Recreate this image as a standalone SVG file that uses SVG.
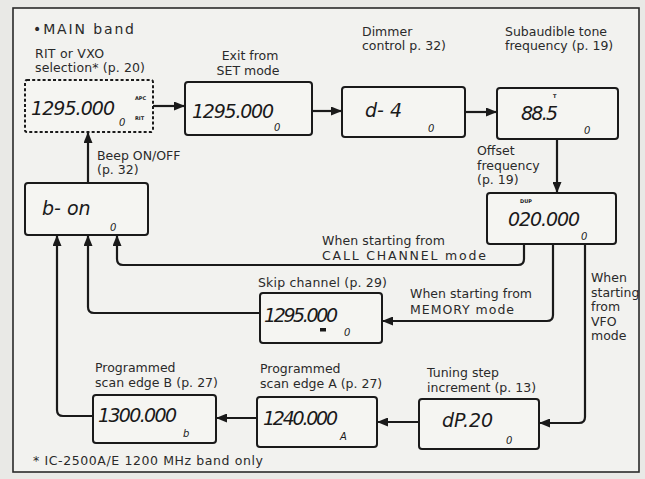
<svg xmlns="http://www.w3.org/2000/svg" width="645" height="479" viewBox="0 0 645 479">
<style>
.bg{fill:#e9e9e6}
.frame{fill:#f2f2ef;stroke:#2a2a2a;stroke-width:1.6}
.box{fill:#f5f5f2;stroke:#1a1a1a;stroke-width:2}
.dbox{fill:#f5f5f2;stroke:#1a1a1a;stroke-width:2;stroke-dasharray:3 2.2}
.lbl{font-family:"DejaVu Sans","Liberation Sans",sans-serif;font-size:12.5px;fill:#2a2a2a}
.lcd{font-family:"DejaVu Sans","Liberation Sans",sans-serif;font-style:italic;font-size:19px;fill:#1a1a1a;font-weight:300}
.sm{font-family:"DejaVu Sans","Liberation Sans",sans-serif;font-style:italic;font-size:10px;fill:#1a1a1a}
.tiny{font-family:"DejaVu Sans","Liberation Sans",sans-serif;font-size:5px;font-weight:bold;fill:#1a1a1a}
.ln{fill:none;stroke:#1a1a1a;stroke-width:2.2;stroke-linejoin:round}
</style>
<defs>
<marker id="ah" markerUnits="userSpaceOnUse" markerWidth="12" markerHeight="9" refX="11" refY="4.5" orient="auto">
<path d="M0,0 L11,4.5 L0,9 z" fill="#1a1a1a"/>
</marker>
</defs>
<rect class="bg" x="0" y="0" width="645" height="479"/>
<rect class="frame" x="13" y="8" width="626" height="464"/>

<text class="lbl" x="33" y="34" style="font-size:14px" textLength="101" lengthAdjust="spacing">•MAIN  band</text>

<g id="connectors">
<path class="ln" d="M153,106 H185" marker-end="url(#ah)"/>
<path class="ln" d="M312,111 H342" marker-end="url(#ah)"/>
<path class="ln" d="M465,112 H497" marker-end="url(#ah)"/>
<path class="ln" d="M557,139 V193" marker-end="url(#ah)"/>
<path class="ln" d="M524,244 V259 Q524,265 518,265 H123 Q117,265 117,259 V235" marker-end="url(#ah)"/>
<path class="ln" d="M553,244 V315 Q553,321 547,321 H382" marker-end="url(#ah)"/>
<path class="ln" d="M585,244 V417 Q585,423 579,423 H539" marker-end="url(#ah)"/>
<path class="ln" d="M260,313 H94 Q88,313 88,307 V235" marker-end="url(#ah)"/>
<path class="ln" d="M88,183 V132" marker-end="url(#ah)"/>
<path class="ln" d="M419,422 H377" marker-end="url(#ah)"/>
<path class="ln" d="M257,418 H216" marker-end="url(#ah)"/>
<path class="ln" d="M93,416 H63 Q57,416 57,410 V235" marker-end="url(#ah)"/>
<text class="lbl" x="322" y="245" textLength="123" lengthAdjust="spacing">When starting from</text>
<text class="lbl" x="322" y="260" textLength="164" lengthAdjust="spacing">CALL CHANNEL mode</text>
<text class="lbl" x="410" y="298" textLength="122" lengthAdjust="spacing">When starting from</text>
<text class="lbl" x="410" y="314" textLength="104" lengthAdjust="spacing">MEMORY mode</text>
<text class="lbl" x="591" y="282">When</text>
<text class="lbl" x="591" y="297">starting</text>
<text class="lbl" x="591" y="311">from</text>
<text class="lbl" x="591" y="326">VFO</text>
<text class="lbl" x="591" y="340">mode</text>
</g>

<g id="rit">
<text class="lbl" x="35" y="58" textLength="69" lengthAdjust="spacing">RIT or VXO</text>
<text class="lbl" x="35" y="72" textLength="110" lengthAdjust="spacing">selection* (p. 20)</text>
<rect class="dbox" x="25" y="80" width="128" height="52" rx="2"/>
<text class="lcd" x="31" y="115" textLength="84" lengthAdjust="spacing">1295.000</text>
<text class="tiny" x="135" y="100">APC</text>
<text class="tiny" x="135" y="120">RIT</text>
<text class="sm" x="119" y="126">0</text>
</g>

<g id="exit">
<text class="lbl" x="250" y="60" text-anchor="middle">Exit from</text>
<text class="lbl" x="248" y="75" text-anchor="middle">SET mode</text>
<rect class="box" x="185" y="82" width="127" height="53" rx="3"/>
<text class="lcd" x="192" y="118" textLength="82" lengthAdjust="spacing">1295.000</text>
<text class="sm" x="274" y="131">0</text>
</g>

<g id="dimmer">
<text class="lbl" x="362" y="36">Dimmer</text>
<text class="lbl" x="362" y="50">control p. 32)</text>
<rect class="box" x="342" y="87" width="123" height="50" rx="3"/>
<text class="lcd" x="365" y="117">d- 4</text>
<text class="sm" x="428" y="132">0</text>
</g>

<g id="tone">
<text class="lbl" x="505" y="36">Subaudible tone</text>
<text class="lbl" x="505" y="50">frequency (p. 19)</text>
<rect class="box" x="497" y="88" width="121" height="51" rx="3"/>
<text class="lcd" x="521" y="120" textLength="37" lengthAdjust="spacing">88.5</text>
<text class="tiny" x="553" y="98">T</text>
<text class="sm" x="584" y="134">0</text>
</g>

<g id="offset">
<text class="lbl" x="477" y="155">Offset</text>
<text class="lbl" x="477" y="170">frequency</text>
<text class="lbl" x="477" y="184">(p. 19)</text>
<rect class="box" x="487" y="193" width="129" height="51" rx="3"/>
<text class="tiny" x="520" y="203">DUP</text>
<text class="lcd" x="508" y="226" textLength="72" lengthAdjust="spacing">020.000</text>
<text class="sm" x="581" y="240">0</text>
</g>

<g id="beep">
<text class="lbl" x="97" y="160">Beep ON/OFF</text>
<text class="lbl" x="97" y="174">(p. 32)</text>
<rect class="box" x="25" y="183" width="123" height="52" rx="3"/>
<text class="lcd" x="42" y="215">b- on</text>
<text class="sm" x="110" y="231">0</text>
</g>

<g id="skip">
<text class="lbl" x="258" y="287" textLength="129" lengthAdjust="spacing">Skip channel (p. 29)</text>
<rect class="box" x="260" y="293" width="122" height="50" rx="3"/>
<text class="lcd" x="264" y="322" textLength="74" lengthAdjust="spacing">1295.000</text>
<rect x="320" y="328" width="6" height="3.5" fill="#1a1a1a"/>
<text class="sm" x="344" y="336">0</text>
</g>

<g id="tuning">
<text class="lbl" x="427" y="377">Tuning step</text>
<text class="lbl" x="427" y="392">increment (p. 13)</text>
<rect class="box" x="419" y="399" width="120" height="50" rx="3"/>
<text class="lcd" x="442" y="427">dP.20</text>
<text class="sm" x="506" y="444">0</text>
</g>

<g id="scanA">
<text class="lbl" x="260" y="373">Programmed</text>
<text class="lbl" x="260" y="388">scan edge A (p. 27)</text>
<rect class="box" x="257" y="397" width="120" height="50" rx="3"/>
<text class="lcd" x="263" y="425" textLength="75" lengthAdjust="spacing">1240.000</text>
<text class="sm" x="340" y="440">A</text>
</g>

<g id="scanB">
<text class="lbl" x="95" y="372">Programmed</text>
<text class="lbl" x="95" y="387" textLength="123" lengthAdjust="spacing">scan edge B (p. 27)</text>
<rect class="box" x="93" y="395" width="123" height="48" rx="3"/>
<text class="lcd" x="98" y="422" textLength="79" lengthAdjust="spacing">1300.000</text>
<text class="sm" x="183" y="437">b</text>
</g>

<text class="lbl" x="33" y="465" textLength="230" lengthAdjust="spacing">* IC-2500A/E 1200 MHz band only</text>
</svg>
